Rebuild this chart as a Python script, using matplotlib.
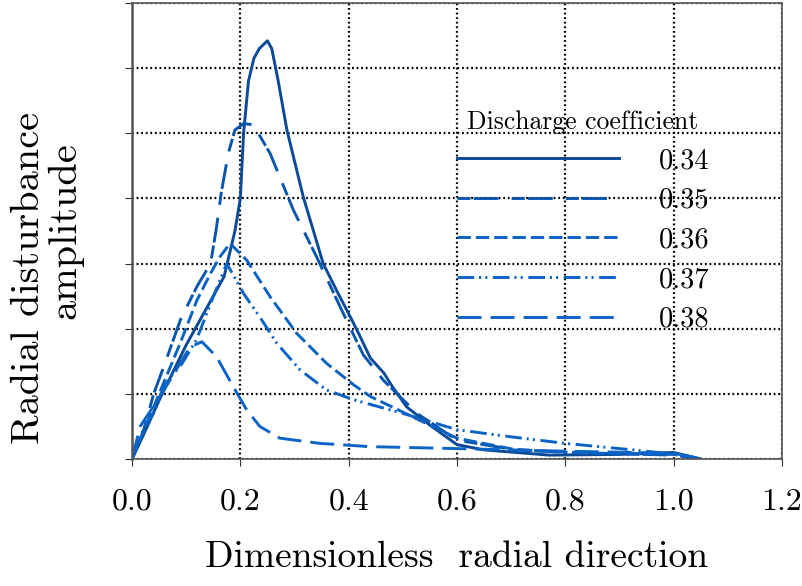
import matplotlib
matplotlib.use("Agg")
import matplotlib.pyplot as plt

plt.rcParams['font.family'] = ['cmr10', 'DejaVu Serif']
plt.rcParams['axes.formatter.use_mathtext'] = True
plt.rcParams['mathtext.fontset'] = 'cm'
plt.rcParams['lines.scale_dashes'] = False

labels = ['0.34', '0.35', '0.36', '0.37', '0.38']

x034 = [0, 0.02, 0.05, 0.10, 0.14, 0.17, 0.19, 0.20, 0.206, 0.215, 0.225, 0.235, 0.25, 0.258, 0.27, 0.286,
        0.316, 0.353, 0.38, 0.405, 0.42, 0.44, 0.465, 0.48, 0.507, 0.55, 0.60, 0.65, 0.77, 0.90, 0.96, 1.0, 1.05]
y034 = [0, 0.35, 0.9, 1.75, 2.35, 2.8, 3.5, 4.0, 5.0, 5.8, 6.15, 6.3, 6.42, 6.3, 5.8, 5.05,
        4.03, 3.0, 2.55, 2.15, 1.9, 1.55, 1.32, 1.12, 0.8, 0.52, 0.22, 0.14, 0.06, 0.07, 0.09, 0.1, 0.0]

x035 = [0, 0.02, 0.04, 0.06, 0.09, 0.12, 0.145, 0.155, 0.165, 0.178, 0.19, 0.206, 0.224, 0.255, 0.298,
        0.341, 0.396, 0.427, 0.464, 0.526, 0.60, 0.70, 0.80, 0.90, 1.0, 1.05]
y035 = [0, 0.4, 1.0, 1.45, 2.15, 2.65, 3.0, 3.5, 4.1, 4.7, 5.05, 5.15, 5.13, 4.69, 3.82,
        3.1, 2.13, 1.6, 1.21, 0.70, 0.29, 0.15, 0.10, 0.08, 0.06, 0.0]

x036 = [0, 0.03, 0.06, 0.09, 0.12, 0.145, 0.162, 0.181, 0.212, 0.255, 0.304, 0.359, 0.409, 0.44, 0.50,
        0.55, 0.60, 0.71, 0.85, 1.0, 1.05]
y036 = [0, 0.6, 1.2, 1.8, 2.44, 2.85, 3.1, 3.31, 3.05, 2.49, 1.93, 1.47, 1.14, 0.96, 0.72,
        0.52, 0.32, 0.14, 0.09, 0.07, 0.0]

x037 = [0, 0.015, 0.027, 0.04, 0.058, 0.075, 0.089, 0.119, 0.15, 0.175, 0.206, 0.236, 0.267, 0.31, 0.359,
        0.409, 0.50, 0.60, 0.70, 0.80, 0.925, 1.018, 1.05]
y037 = [0, 0.35, 0.55, 0.7, 1.1, 1.3, 1.42, 1.83, 2.49, 3.0, 2.54, 2.18, 1.78, 1.37, 1.06,
        0.91, 0.7, 0.45, 0.34, 0.24, 0.14, 0.06, 0.0]

x038 = [0, 0.015, 0.039, 0.07, 0.107, 0.129, 0.156, 0.187, 0.212, 0.236, 0.273, 0.347, 0.439, 0.60, 0.80, 1.0, 1.05]
y038 = [0, 0.5, 0.8, 1.21, 1.72, 1.80, 1.57, 1.11, 0.75, 0.5, 0.32, 0.24, 0.19, 0.16, 0.12, 0.09, 0.0]

xticks = [0.0, 0.2, 0.4, 0.6, 0.8, 1.0, 1.2]
xticklabels = ['0.0', '0.2', '0.4', '0.6', '0.8', '1.0', '1.2']
yticks = [0, 1, 2, 3, 4, 5, 6, 7]

series = [(x034, y034), (x035, y035), (x036, y036), (x037, y037), (x038, y038)]
colors = ['#0b4a96', '#0a56ad', '#0a62c2', '#0a62c8', '#0d63c6']
styles = ['-', (0, (9.4, 2.2, 18, 9.4)), (0, (9.6, 3.6)), (0, (12, 3.5, 1.5, 3, 1.5, 4)), (0, (17.3, 6.5))]

fig = plt.figure(figsize=(8.03, 5.86), dpi=100)
ax = fig.add_axes([0.1644, 0.2167, 0.8094, 0.7782])

for (xs, ys), c, ls, lab in zip(series, colors, styles, labels):
    ax.plot(xs, ys, color=c, linestyle=ls, linewidth=2.1, label=lab)

ax.set_xlim(0, 1.2)
ax.set_ylim(0, 7)
ax.set_xticks(xticks)
ax.set_xticklabels(xticklabels)
ax.set_yticks(yticks)
ax.set_yticklabels([])
ax.grid(True, color='black', linestyle=(0, (1.3, 2.0)), linewidth=1.6)
ax.set_axisbelow(True)
for s in ax.spines.values():
    s.set_color('#555555')
    s.set_linewidth(1.2)
ax.spines['left'].set_linewidth(1.8)
ax.tick_params(axis='both', direction='out', length=5, color='#333333', labelsize=23, pad=16)

ax.set_xlabel('Dimensionless  radial direction', fontsize=27, labelpad=18)
ax.set_ylabel('Radial disturbance       \namplitude', fontsize=29, labelpad=14, linespacing=1.0)

leg = ax.legend(title='Discharge coefficient', frameon=False, loc='upper left',
                bbox_to_anchor=(0.482, 0.789), handlelength=5.7, handletextpad=1.4,
                labelspacing=0.47, fontsize=20.5, title_fontsize=18.5, borderaxespad=0.0)
fig.savefig('out.png', dpi=100)
